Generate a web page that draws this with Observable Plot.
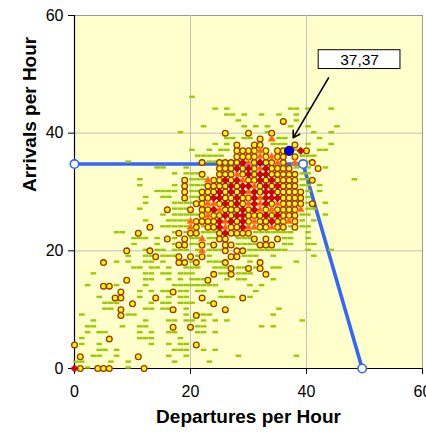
<!DOCTYPE html>
<html><head><meta charset="utf-8">
<script src="https://cdn.jsdelivr.net/npm/d3@7"></script>
<script src="https://cdn.jsdelivr.net/npm/@observablehq/plot@0.6"></script>
<style>body{margin:0;background:#fff;font-family:"Liberation Sans",Arial,sans-serif}</style>
</head><body><div id="chart"></div>
<script>
const xTicks = [0, 20, 40, 60];
const yTicks = [0, 20, 40, 60];
const gridTicks = [20, 40];
const xTitle = "Departures per Hour";
const yTitle = "Arrivals per Hour";

// rows: [arrivals, [departures...]]
const circleRows = [
  [42,[36]],[40,[26,30,34]],[39,[32]],[38,[28,31,32,38]],
  [37,[28,29,30,31,33,35,36,40]],
  [36,[28,29,30,31,33,35,36,38]],
  [35,[22,25,26,27,28,31,33,34,36,41]],
  [34,[25,26,27,29,31,34,35,36,37,42]],
  [33,[22,25,26,27,29,31,34,35,36,37,38]],
  [32,[19,24,25,27,30,31,33,35,36,37,38,41]],
  [31,[19,23,24,25,26,28,32,34,36,37,38]],
  [30,[19,22,23,24,26,28,32,35,36,37,38,39]],
  [29,[19,22,23,26,27,29,30,36,37,38,39]],
  [28,[21,22,25,27,29,34,36,37,38,39,41]],
  [27,[16,20,22,23,26,27,28,30,33,35,36,37,38]],
  [26,[22,24,25,27,30,31,32,34,36,37,38]],
  [25,[21,22,23,24,28,30,32,33,35,36,38]],
  [24,[13,21,23,24,27,28,32,33,35,36,38]],
  [23,[11,18,20,21,25,27,28,29,30]],
  [22,[16,19,25,26,31,33,35]],
  [21,[18,19,22,24,26,27,32,33,34]],
  [20,[9,13,26,28,29]],
  [19,[14,18,20,22,27,28]],
  [18,[5,18,19,21,26,32]],
  [17,[27,30,32]],[16,[24,27,33]],[15,[9,23]],[14,[5,6]],[13,[8,17]],
  [12,[7,8,14,22,29]],[11,[10,24]],[10,[8,17,26]],[9,[8,21]],[7,[17,20]],
  [5,[6]],[4,[0,21]],[2,[1,11]],[0,[1,4,5,6,12]]
];
const redRows = [
  [37,[39]],[35,[29,32]],[34,[28,30,33]],[33,[30,32,33]],[32,[26,28,32,34]],
  [31,[27,29,30,33,35]],[30,[25,27,29,31,33,34]],[29,[24,25,28,31,33,34,35]],
  [28,[26,28,31,33]],[27,[24,29,31]],[26,[26,28,29,33,35]],[25,[25,27,29,34]],
  [24,[25,29]],[23,[26]],[0,[0]]
];
const triangleRows = [
  [39,[34]],[37,[32]],[36,[32,34]],[35,[30,35,38]],[34,[32]],[33,[28]],[32,[23,29]],
  [31,[31]],[30,[30]],[29,[32]],[28,[23,24,30,32,35]],[27,[25,32,34,39]],[26,[23]],
  [25,[20,26,31,37]],[24,[20,26,30,31,34]],[22,[22]],[20,[22]]
];
const dashRows = [
  [46,[20]],[44,[24,26,37,38,40,44]],[43,[26,27,29,32,35,38]],[42,[28,38]],
  [41,[22,29,31,33,37,40,45]],[40,[18,33,41,44]],[39,[26,27,29,30,35,36,42]],
  [38,[24,26,34,35,36,40,44]],[37,[20,23,25,26,38,42,43]],[36,[21,22,23,24,25,39,40,41]],
  [35,[9,23,24,39,40]],[34,[14,15,19,38,40,43]],[33,[17,19,20,21,39,40]],
  [32,[11,20,21,22,39,40,48]],[31,[11,17,20,21,22,39,40,42]],[30,[14,15,16,17,20,21,40,42]],
  [29,[12,15,16,20,21,40]],[28,[12,17,18,19,20,40,43]],[27,[11,17,18,19,40,41]],
  [26,[15,17,18,19,20,21,39,40,43]],[25,[12,16,17,18,19,39,41]],[24,[15,16,17,18,19,22,37,39,40]],
  [23,[7,8,17,19,22,23,24,31,32,33,34,35,36,37,40]],
  [22,[10,11,12,14,17,20,21,23,24,28,29,30,36,37,40]],
  [21,[10,14,17,20,21,23,28,29,30,31,36,37,40,41]],
  [20,[12,14,15,17,18,19,21,23,24,25,30,31,32,33,34,35,36,40,44]],
  [19,[9,12,13,15,16,17,21,23,29,30,31,34,41]],
  [18,[7,9,12,13,15,20,23,24,25,30,38]],
  [17,[10,11,13,14,16,19,20,21,24,25,26,28,29,31,34,35]],
  [16,[3,12,13,15,16,18,19,20,25,26,28,29,30]],
  [15,[12,13,16,18,20,21,22,26,28,29,34]],
  [14,[2,7,12,17,18,19,20,21,22,23,24,30,32]],
  [13,[11,13,15,16,18,19,21,22,25,31]],
  [12,[4,11,16,18,19,25,26,27,30]],
  [11,[5,6,7,13,15,16,18,19,20,23]],
  [10,[5,6,12,13,15,16,19,35]],
  [9,[1,9,10,19,21,22,23,34]],
  [8,[3,12,16,17,19,20,22,24,26,39]],
  [7,[2,3,8,11,12,21,22,32,34]],
  [6,[2,4,5,11,13,16,17,21,22,24]],
  [5,[1,11,12,13,18]],[4,[1,4,13,16,18,19]],[3,[4,5,7,17,18,19,22,24]],
  [2,[3,4,7,16,19,28,38]],[1,[0,1,6,9,17,23]],[0,[2,9]]
];
const capacityX = [0, 39.4, 49.6];
const capacityY = [34.75, 34.75, 0];
const highlight = [{x: 37, y: 37}];
const calloutText = ["37,37"];
const calloutBox = [{x1: 42.1, x2: 56.2, y1: 50.9, y2: 54.1, cx: 49.15, cy: 52.5}];
const calloutArrow = [{x1: 43.8, y1: 49.4, x2: 37.7, y2: 39.2}];

const expand = rows => rows.flatMap(([y, xs]) => xs.map(x => ({x, y})));
const circles = expand(circleRows), reds = expand(redRows), tris = expand(triangleRows), dashes = expand(dashRows);
const capacity = capacityX.map((x, i) => ({x, y: capacityY[i]}));
const dashSymbol = {draw(ctx) { ctx.moveTo(-2.8, -1.2); ctx.lineTo(2.8, -1.2); ctx.lineTo(2.8, 1.2); ctx.lineTo(-2.8, 1.2); ctx.closePath(); }};

const chart = Plot.plot({
  width: 426, height: 432,
  marginLeft: 74, marginRight: 4, marginTop: 15, marginBottom: 64,
  style: {fontFamily: "'Liberation Sans', Arial, sans-serif", background: "white", color: "black"},
  x: {domain: [0, 60], label: null},
  y: {domain: [0, 60], label: null},
  marks: [
    Plot.frame({fill: "#FFFFCC", stroke: "#999999"}),
    Plot.gridX(gridTicks, {stroke: "#C0C0C0", strokeOpacity: 1}),
    Plot.gridY(gridTicks, {stroke: "#C0C0C0", strokeOpacity: 1}),
    Plot.ruleX([0], {stroke: "#000", strokeWidth: 1.2}),
    Plot.ruleY([0], {stroke: "#000", strokeWidth: 1.2}),
    Plot.axisX(xTicks, {tickSize: 6, tickPadding: 11, fontSize: 16, label: null}),
    Plot.axisY(yTicks, {tickSize: 6, tickPadding: 5, fontSize: 16, label: null}),
    Plot.text([xTitle], {frameAnchor: "bottom", dy: 54, fontSize: 19, fontWeight: "bold"}),
    Plot.text([yTitle], {frameAnchor: "left", dx: -45, rotate: -90, fontSize: 19, fontWeight: "bold"}),
    Plot.line(capacity, {x: "x", y: "y", stroke: "#3366FF", strokeWidth: 3.6}),
    Plot.dot(dashes, {x: "x", y: "y", symbol: dashSymbol, fill: "#99CC00", dx: 1.5, dy: -1}),
    Plot.dot(circles, {x: "x", y: "y", r: 2.85, fill: "#FFFF00", stroke: "#A33000", strokeWidth: 1.3}),
    Plot.dot(tris, {x: "x", y: "y", symbol: "triangle", r: 2.7, fill: "#FF6600", stroke: "#FF8833", strokeWidth: 0.6}),
    Plot.dot(reds, {x: "x", y: "y", symbol: "diamond2", r: 3.2, fill: "#DD0000", stroke: "#990000", strokeWidth: 0.8}),
    Plot.dot(capacity, {x: "x", y: "y", r: 4.2, fill: "white", stroke: "#3366FF", strokeWidth: 1.6}),
    Plot.dot(highlight, {x: "x", y: "y", r: 4.6, fill: "#0000EE", stroke: "#000060", strokeWidth: 1}),
    Plot.arrow(calloutArrow, {x1: "x1", y1: "y1", x2: "x2", y2: "y2", stroke: "black", strokeWidth: 1.6, headLength: 7, bend: 0}),
    Plot.rect(calloutBox, {x1: "x1", x2: "x2", y1: "y1", y2: "y2", fill: "white", stroke: "black", strokeWidth: 1}),
    Plot.text(calloutBox, {x: "cx", y: "cy", text: () => calloutText[0], fontSize: 15.5})
  ]
});
document.getElementById("chart").appendChild(chart);
</script></body></html>
